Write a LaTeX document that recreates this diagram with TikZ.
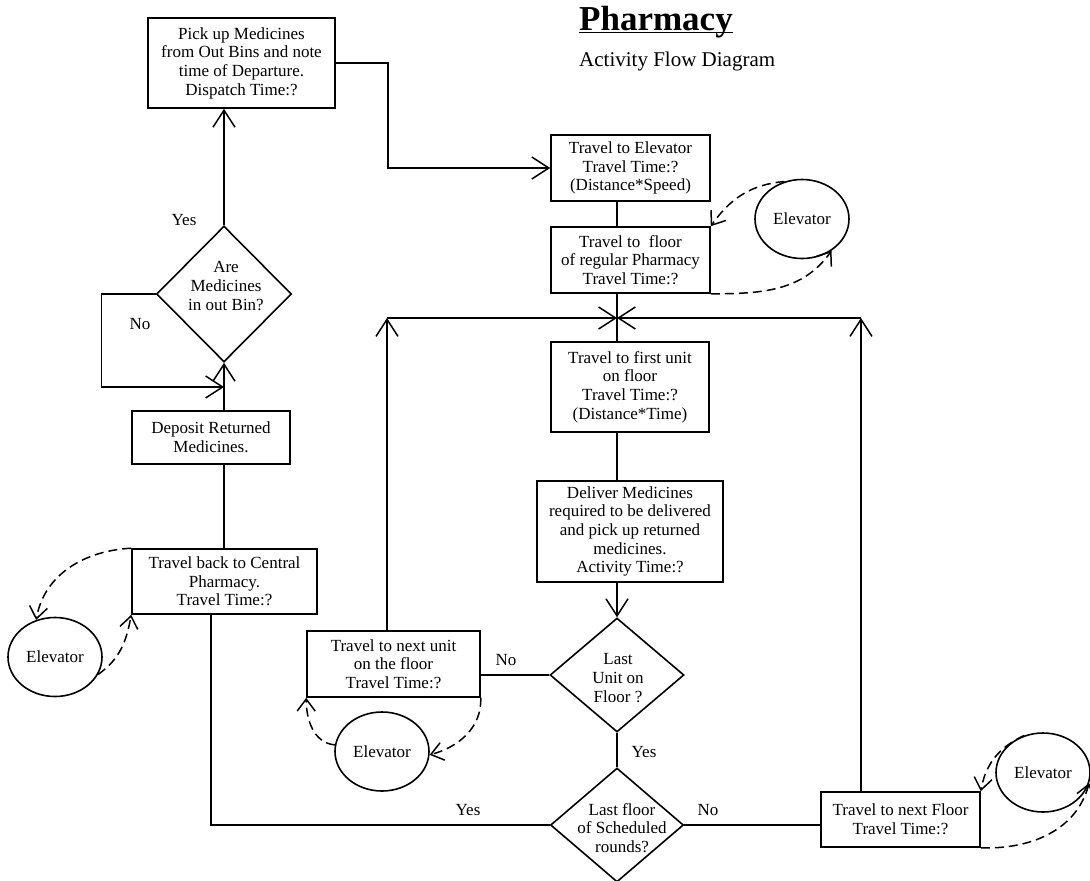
\documentclass[tikz,border=0pt]{standalone}
\usepackage{fontspec}
\setmainfont{Liberation Serif}
\usetikzlibrary{arrows.meta,shapes.geometric}
\begin{document}
\begin{tikzpicture}[x=1pt,y=1pt,
  every node/.style={font=\fontsize{17}{18.7}\selectfont},
  box/.style={draw,rectangle,line width=1.6pt,inner sep=0pt,align=center},
  dia/.style={draw,diamond,line width=1.6pt,inner sep=0pt},
  elev/.style={draw,ellipse,line width=1.6pt,inner sep=0pt,minimum width=94pt,minimum height=79pt},
  ln/.style={line width=1.5pt},
  arr/.style={line width=1.5pt,-{Straight Barb[length=17pt,width=22pt]}},
  darr/.style={line width=1.5pt,dash pattern=on 9pt off 5pt,-{Straight Barb[length=12pt,width=18pt]}},
  lbl/.style={inner sep=0pt,align=center}]
\path[use as bounding box] (0,0) rectangle (1090,-881);

% title
\node[lbl,anchor=base west,font=\fontsize{35}{40}\selectfont\bfseries] (title) at (579,-30) {Pharmacy};
\draw[line width=1.6pt] ([yshift=-2.5pt]title.base west) -- ([yshift=-2.5pt]title.base east);
\node[lbl,anchor=base west,font=\fontsize{21}{24}\selectfont] (sub) at (579,-66) {Activity Flow Diagram};

% coordinates
\coordinate (cx) at (617,-318);
\coordinate (cl) at (387,-318);
\coordinate (cr) at (861,-318);
\coordinate (loopend) at (224,-387);

% boxes
\node[box,minimum width=187pt,minimum height=90pt] (b1) at (241.5,-63) {Pick up Medicines\\from Out Bins and note\\time of Departure.\\Dispatch Time:?};
\node[box,minimum width=159pt,minimum height=66pt] (b2) at (630.5,-168) {Travel to Elevator\\Travel Time:?\\(Distance*Speed)};
\node[box,minimum width=159pt,minimum height=66pt] (b3) at (630.5,-260) {Travel to \ floor\\of regular Pharmacy\\Travel Time:?};
\node[box,minimum width=158pt,minimum height=90pt] (b4) at (630,-387) {Travel to first unit\\on floor\\Travel Time:?\\(Distance*Time)};
\node[box,minimum width=186pt,minimum height=101pt] (b5) at (630,-531.5) {Deliver Medicines\\required to be delivered\\and pick up returned\\medicines.\\Activity Time:?};
\node[box,minimum width=173pt,minimum height=66pt] (b6) at (393.5,-664) {Travel to next unit\\on the floor\\Travel Time:?};
\node[box,minimum width=159pt,minimum height=55pt] (b7) at (900.5,-819.5) {Travel to next Floor\\Travel Time:?};
\node[box,minimum width=185pt,minimum height=65pt] (b8) at (224.5,-581.5) {Travel back to Central\\Pharmacy.\\Travel Time:?};
\node[box,minimum width=158pt,minimum height=53pt] (b9) at (211,-437.5) {Deposit Returned\\Medicines.};

% diamonds
\node[dia,minimum width=135pt,minimum height=136pt] (d3) at (224,-294) {};
\node[lbl] at (226,-286) {Are\\Medicines\\in out Bin?};
\node[dia,minimum width=134pt,minimum height=114pt] (d1) at (617,-675) {};
\node[lbl] at (618,-678) {Last\\Unit on\\Floor ?};
\node[dia,minimum width=133pt,minimum height=114pt] (d2) at (617,-825) {};
\node[lbl] at (622,-828) {Last floor\\of Scheduled\\rounds?};

% elevators
\node[elev] (elev1) at (802,-219) {Elevator};
\node[elev] (elev2) at (382,-751.5) {Elevator};
\node[elev] (elev3) at (1043,-772.5) {Elevator};
\node[elev] (elev4) at (55,-657) {Elevator};

% connectors
\draw[arr] (b1.east) -- ++(52,0) |- (b2.west);
\draw[ln] (b2.south -| cx) -- (b3.north -| cx);
\draw[ln] (b3.south -| cx) -- (cx);
\draw[ln] (cx) -- (b4.north -| cx);
\draw[ln] (b4.south -| cx) -- (b5.north -| cx);
\draw[arr] (b5.south -| cx) -- (d1.north);
\draw[ln] (d1.south) -- (d2.north);
\draw[ln] (d1.west) -- (d1.west -| b6.east);
\draw[arr] (b6.north -| cl) -- (cl);
\draw[arr] (cl) -- (cx);
\draw[arr] (b7.north -| cr) -- (cr);
\draw[arr] (cr) -- (cx);
\draw[ln] (d2.east) -- (d2.east -| b7.west);
\draw[ln] (d2.west) -| ([xshift=-13.5pt]b8.south);
\draw[ln] (b8.north -| d3) -- (b9.south -| d3);
\draw[arr] (b9.north -| d3) -- (d3.south);
\draw[arr] (d3.north) -- (b1.south -| d3);
\draw[arr] (d3.west) -- ++(-54,0) |- (loopend);

% dashed elevator connectors
\draw[darr] (elev1.115) to[out=185,in=55] (b3.north east);
\draw[darr] (b3.south east) to[out=0,in=235] (elev1.-47);
\draw[darr] (elev3.117) to[out=205,in=80] (b7.north east);
\draw[darr] (b7.south east) to[out=-2,in=255] (elev3.-13);
\draw[darr] (elev2.172) to[out=175,in=-90] (b6.south west);
\draw[darr] (b6.south east) to[out=-88,in=15] (elev2.-4);
\draw[darr] (b8.north west) to[out=183,in=80] (elev4.117);
\draw[darr] (elev4.-22) to[out=35,in=-100] (b8.south west);

% labels
\node[lbl] at (184,-220) {Yes};
\node[lbl] at (140,-324) {No};
\node[lbl] at (506,-660) {No};
\node[lbl] at (644,-752) {Yes};
\node[lbl] at (468,-810) {Yes};
\node[lbl] at (708,-810) {No};
\end{tikzpicture}
\end{document}
